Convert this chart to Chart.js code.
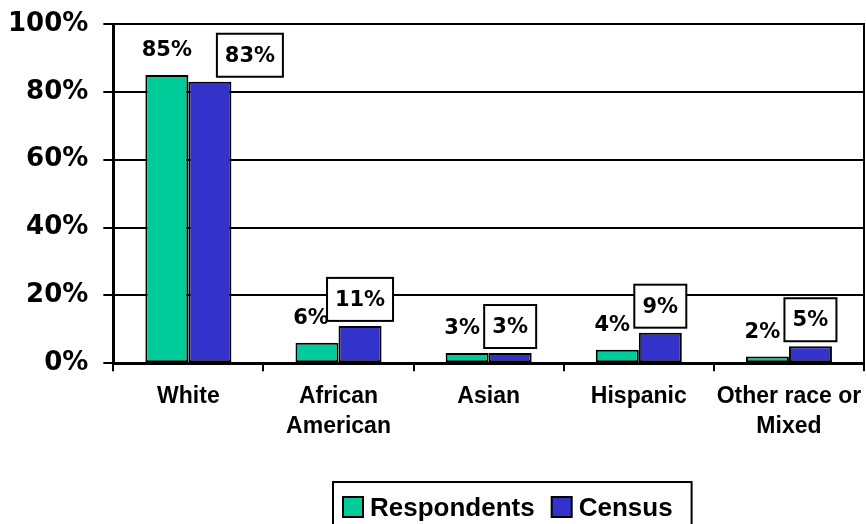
<!DOCTYPE html>
<html>
<head>
<meta charset="utf-8">
<script src="https://cdn.jsdelivr.net/npm/chart.js@4.4.1/dist/chart.umd.min.js"></script>
<style>
  html, body { margin: 0; padding: 0; background: #fff; }
</style>
</head>
<body>
<canvas id="raceChart" width="866" height="524"></canvas>
<script>
const categories = ["White", ["African", "American"], "Asian", "Hispanic", ["Other race or", "Mixed"]];
const respondents = [85, 6, 3, 4, 2];
const census = [83, 11, 3, 9, 5];
const yTicks = [0, 20, 40, 60, 80, 100];

// small nudges (px) for the value labels
const respondentLabelShift = [0, -6, -5, -5, -5];
const censusLabelShift = [40, 0, 0, 0, 0];

const LEGEND_FONT = "bold 26px 'Liberation Sans', Arial";

const valueLabels = {
  id: "valueLabels",
  afterDatasetsDraw(chart) {
    const ctx = chart.ctx;
    ctx.save();
    ctx.font = "bold 21px 'DejaVu Sans'";
    ctx.textAlign = "center";
    ctx.textBaseline = "middle";
    ctx.lineWidth = 2;
    ctx.strokeStyle = "#000";

    // census values sit in white boxes above the bars
    chart.getDatasetMeta(1).data.forEach((bar, i) => {
      const text = census[i] + "%";
      const w = Math.round(ctx.measureText(text).width + 16);
      const h = 43;
      const cx = bar.x + censusLabelShift[i];
      const bottom = bar.y - 5;
      ctx.fillStyle = "#fff";
      ctx.fillRect(cx - w / 2, bottom - h, w, h);
      ctx.strokeRect(cx - w / 2, bottom - h, w, h);
      ctx.fillStyle = "#000";
      ctx.fillText(text, cx, bottom - h / 2 + 1);
    });

    // respondent values are plain text
    ctx.fillStyle = "#000";
    chart.getDatasetMeta(0).data.forEach((bar, i) => {
      ctx.fillText(respondents[i] + "%", bar.x + respondentLabelShift[i], bar.y - 24);
    });

    // right edge of the plot frame
    const a = chart.chartArea;
    ctx.beginPath();
    ctx.moveTo(a.right, a.top - 1);
    ctx.lineTo(a.right, a.bottom);
    ctx.stroke();
    ctx.restore();
  },
  afterDraw(chart) {
    // boxed legend under the axis labels
    const ctx = chart.ctx;
    const sets = chart.data.datasets;
    ctx.save();
    ctx.font = LEGEND_FONT;
    ctx.textBaseline = "alphabetic";
    ctx.textAlign = "left";
    ctx.lineWidth = 2;
    ctx.strokeStyle = "#000";
    const left = 333, top = 482;
    let x = left + 10;
    sets.forEach((ds, i) => {
      if (i > 0) x += 17;
      ctx.fillStyle = ds.backgroundColor;
      ctx.fillRect(x, 497, 20, 20);
      ctx.strokeRect(x, 497, 20, 20);
      x += 27;
      ctx.fillStyle = "#000";
      ctx.fillText(ds.label, x, 516);
      x += ctx.measureText(ds.label).width;
    });
    ctx.strokeRect(left, top, x + 19 - left, 80);
    ctx.restore();
  }
};

new Chart(document.getElementById("raceChart"), {
  type: "bar",
  data: {
    labels: categories,
    datasets: [
      {
        label: "Respondents",
        data: respondents,
        backgroundColor: "#00CC99",
        borderColor: "#000",
        borderWidth: 2,
        borderSkipped: false,
        categoryPercentage: 0.573,
        barPercentage: 1.0
      },
      {
        label: "Census",
        data: census,
        backgroundColor: "#3333CC",
        borderColor: "#000",
        borderWidth: 2,
        borderSkipped: false,
        categoryPercentage: 0.573,
        barPercentage: 1.0
      }
    ]
  },
  options: {
    responsive: false,
    animation: false,
    layout: { padding: { left: -7, right: 2, top: 19, bottom: 71 } },
    plugins: {
      tooltip: { enabled: false },
      legend: { display: false }
    },
    scales: {
      x: {
        // let the last label run into the right margin
        afterFit(axis) { axis.paddingRight = 0; },
        grid: { display: true, drawOnChartArea: false, color: "#000", lineWidth: 2, tickLength: 8, offset: true },
        border: { color: "#000", width: 3 },
        ticks: {
          color: "#000",
          padding: 11,
          maxRotation: 0,
          minRotation: 0,
          autoSkip: false,
          font: { family: "'Liberation Sans', Arial", size: 23, weight: "bold", lineHeight: 1.3 }
        }
      },
      y: {
        min: 0,
        max: 100,
        afterBuildTicks(axis) { axis.ticks = yTicks.map(v => ({ value: v })); },
        grid: { color: "#000", lineWidth: 2, tickLength: 10 },
        border: { color: "#000", width: 3 },
        ticks: {
          color: "#000",
          padding: 15,
          font: { family: "'DejaVu Sans'", size: 26, weight: "bold", lineHeight: 0.7 },
          callback: v => v + "%"
        }
      }
    }
  },
  plugins: [valueLabels]
});
</script>
</body>
</html>
